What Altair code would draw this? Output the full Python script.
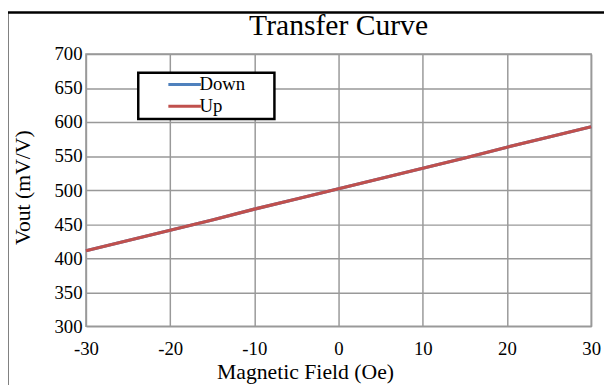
import altair as alt
import pandas as pd

field = [-30, -25, -20, -15, -10, -5, 0, 5, 10, 15, 20, 25, 30]
down = [411, 426, 441, 456, 472, 487, 502, 517, 532, 547, 563, 578, 593]
up = [411, 426, 441, 456, 472, 487, 502, 517, 532, 547, 563, 578, 593]
series = ["Down", "Up"]
colors = ["#4F81BD", "#C0504D"]
x_ticks = [-30, -20, -10, 0, 10, 20, 30]
y_ticks = [300, 350, 400, 450, 500, 550, 600, 650, 700]

rows = []
for i, f in enumerate(field):
    rows.append({"field": f, "vout": down[i], "series": "Down"})
    rows.append({"field": f, "vout": up[i], "series": "Up"})
df = pd.DataFrame(rows)

FONT = "Liberation Serif"

legend_box = alt.Chart(pd.DataFrame({"a": [0]})).mark_rect(
    fill="white", stroke="black", strokeWidth=2.5).encode(
    x=alt.value(53), x2=alt.value(191), y=alt.value(19), y2=alt.value(66))

lines = alt.Chart(df).mark_line(strokeWidth=3.2).encode(
    x=alt.X("field:Q", scale=alt.Scale(domain=[-30, 30], nice=False),
            axis=alt.Axis(values=x_ticks, title="Magnetic  Field (Oe)", labelPadding=14,
                          labelExpr="'' + datum.value", labelFlush=False,
                          titlePadding=3, titleX=222, ticks=False, domain=False)),
    y=alt.Y("vout:Q", scale=alt.Scale(domain=[300, 700], nice=False),
            axis=alt.Axis(values=y_ticks, title="Vout (mV/V)", labelPadding=4,
                          labelFlush=False,
                          titlePadding=20, titleY=135, ticks=False, domain=False)),
    color=alt.Color("series:N", scale=alt.Scale(domain=series, range=colors),
                    legend=alt.Legend(title=None, orient="none", legendX=90, legendY=21,
                                      symbolType="M-2,0H2", symbolSize=272,
                                      symbolStrokeWidth=3, labelFont=FONT, labelFontSize=19,
                                      labelColor="black", labelOffset=5,
                                      padding=0, rowPadding=2, labelLimit=200)),
)

border_left = alt.Chart(pd.DataFrame({"a": [0]})).mark_rule(color="black", strokeWidth=3).encode(
    x=alt.value(-80), y=alt.value(-42), y2=alt.value(340))
border_top = alt.Chart(pd.DataFrame({"a": [0]})).mark_rule(color="black", strokeWidth=2.5).encode(
    x=alt.value(-80), x2=alt.value(530), y=alt.value(-42))

chart = alt.layer(legend_box, lines, border_left, border_top).properties(
    width=512, height=276,
    title=alt.TitleParams("Transfer Curve", font=FONT, fontSize=30, fontWeight="normal",
                          color="black", anchor="middle", offset=10, dy=40),
    autosize=alt.AutoSizeParams(type="none"),
    padding={"left": 79, "top": 44, "right": 13, "bottom": 57},
).configure_view(stroke="#999999", strokeWidth=1.5).configure_axis(
    labelFont=FONT, titleFont=FONT, labelFontSize=19, titleFontSize=22,
    titleFontWeight="normal", labelColor="black", titleColor="black",
    gridColor="#999999", gridWidth=1.5, gridOpacity=1,
)

chart.save("out.html", embed_options={"renderer": "svg", "actions": False})
